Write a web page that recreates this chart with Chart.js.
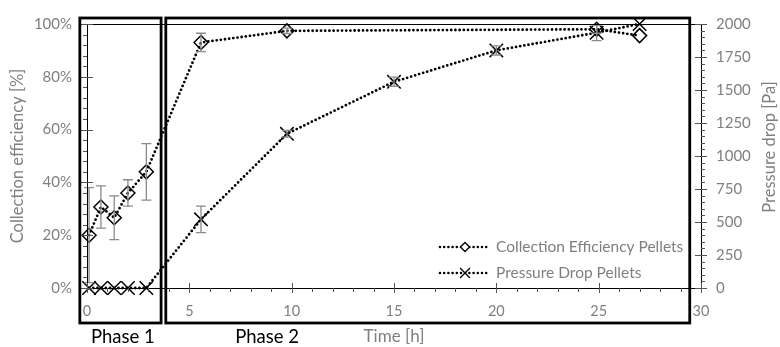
<!DOCTYPE html>
<html>
<head>
<meta charset="utf-8">
<script src="https://cdn.jsdelivr.net/npm/chart.js@4.4.1/dist/chart.umd.min.js"></script>
<style>
  html, body { margin: 0; padding: 0; background: #fff; }
  #wrap { width: 780px; height: 347px; position: relative; }
</style>
</head>
<body>
<div id="wrap"><canvas id="chart"></canvas></div>
<script>
// Czas pomiaru [h]
const timeEff = [0.1, 0.68, 1.33, 2.0, 2.9, 5.57, 9.77, 24.9, 27.0];
const efficiency = [20, 30.7, 26.6, 36, 44, 93, 97.4, 98, 95.6];
const efficiencyErr = [18, 8, 8.3, 5, 10.7, 3.5, 1, 1.5, 0];

const timePressure = [0.1, 0.68, 1.33, 2.0, 2.9, 5.57, 9.77, 15.0, 20.0, 24.9, 27.0];
const pressure = [0, 0, 0, 0, 0, 520, 1168, 1562, 1800, 1934, 2000];
const pressureErr = [0, 0, 0, 0, 0, 100, 25, 35, 35, 60, 0];

// Fazy eksperymentu
const phaseNames = ['Phase 1', 'Phase 2'];
const phaseFrom = [-0.35, 3.85];
const phaseTo = [3.62, 29.45];
const phaseLabelAt = [1.75, 8.8];

const GREY = '#7f7f7f';
const FONT = 'Lato, "Open Sans", sans-serif';

const toPoints = (xs, ys) => xs.map((x, i) => ({ x, y: ys[i] }));

// Słupki błędów rysowane na skalach wykresu
const errorBars = {
    id: 'errorBars',
    afterDatasetsDraw(chart) {
        const ctx = chart.ctx;
        const xs = chart.scales.x;
        ctx.save();
        ctx.strokeStyle = '#8a8a8a';
        ctx.lineWidth = 1.3;
        chart.data.datasets.forEach(ds => {
            const ys = chart.scales[ds.yAxisID];
            ds.data.forEach((p, j) => {
                const e = ds.errors[j];
                if (!e) return;
                const x = xs.getPixelForValue(p.x);
                const top = ys.getPixelForValue(p.y + e);
                const bot = ys.getPixelForValue(Math.max(p.y - e, ys.min));
                ctx.beginPath();
                ctx.moveTo(x, top); ctx.lineTo(x, bot);
                ctx.moveTo(x - 5, top); ctx.lineTo(x + 5, top);
                ctx.moveTo(x - 5, bot); ctx.lineTo(x + 5, bot);
                ctx.stroke();
            });
        });
        ctx.restore();
    }
};

// Osie z kreskami, ramki faz, legenda
const frame = {
    id: 'frame',
    afterDraw(chart) {
        const ctx = chart.ctx;
        const { left, right, top, bottom } = chart.chartArea;
        const xs = chart.scales.x, y1 = chart.scales.y, y2 = chart.scales.y2;
        ctx.save();

        // linie osi
        ctx.strokeStyle = '#000';
        ctx.lineWidth = 1;
        ctx.beginPath();
        ctx.moveTo(left + 0.5, top); ctx.lineTo(left + 0.5, bottom);
        ctx.moveTo(right + 0.5, top); ctx.lineTo(right + 0.5, bottom);
        ctx.moveTo(left, bottom + 0.5); ctx.lineTo(right, bottom + 0.5);
        ctx.moveTo(left, top + 0.5); ctx.lineTo(right, top + 0.5);
        ctx.stroke();

        ctx.strokeStyle = '#555';
        ctx.beginPath();
        for (let v = 0; v <= 100; v += 4) {
            const y = Math.round(y1.getPixelForValue(v)) + 0.5;
            if (v % 20 === 0) { ctx.moveTo(left - 6, y); ctx.lineTo(left + 6, y); }
            else { ctx.moveTo(left - 4, y); ctx.lineTo(left, y); }
        }
        for (let v = 0; v <= 2000; v += 50) {
            const y = Math.round(y2.getPixelForValue(v)) + 0.5;
            if (v % 250 === 0) { ctx.moveTo(right - 6, y); ctx.lineTo(right + 6, y); }
            else { ctx.moveTo(right, y); ctx.lineTo(right + 4, y); }
        }
        for (let v = 0; v <= 30; v += 1) {
            const x = Math.round(xs.getPixelForValue(v)) + 0.5;
            if (v % 5 === 0) { ctx.moveTo(x, bottom - 5); ctx.lineTo(x, bottom + 5); }
            else { ctx.moveTo(x, bottom); ctx.lineTo(x, bottom + 4); }
        }
        ctx.stroke();

        // tytuł prawej osi
        ctx.fillStyle = GREY;
        ctx.font = '16.5px ' + FONT;
        ctx.textAlign = 'center';
        ctx.textBaseline = 'middle';
        ctx.save();
        ctx.translate(770, 147);
        ctx.rotate(-Math.PI / 2);
        ctx.fillText('Pressure drop [Pa]', 0, 0);
        ctx.restore();

        // ramki faz
        ctx.strokeStyle = '#000';
        ctx.lineWidth = 2.8;
        ctx.fillStyle = '#000';
        ctx.font = '18.5px ' + FONT;
        phaseNames.forEach((name, i) => {
            const x0 = xs.getPixelForValue(phaseFrom[i]);
            const x1 = xs.getPixelForValue(phaseTo[i]);
            ctx.strokeRect(x0, top - 6, x1 - x0, bottom - top + 41);
            ctx.fillText(name, xs.getPixelForValue(phaseLabelAt[i]), bottom + 49);
        });

        // legenda
        ctx.font = '15.5px ' + FONT;
        ctx.textAlign = 'left';
        chart.data.datasets.forEach((ds, i) => {
            const y = bottom - 41 + i * 26;
            const x0 = right - 261, x1 = right - 211;
            ctx.save();
            ctx.strokeStyle = '#000';
            ctx.lineWidth = 2.6;
            ctx.lineCap = 'round';
            ctx.setLineDash([0, 4.2]);
            ctx.beginPath();
            ctx.moveTo(x0, y); ctx.lineTo(x1, y);
            ctx.stroke();
            ctx.restore();
            ctx.save();
            ctx.strokeStyle = '#000';
            ctx.fillStyle = '#fff';
            ctx.lineWidth = 1.3;
            Chart.helpers.drawPoint(ctx, {
                pointStyle: ds.pointStyle, radius: ds.pointStyle === 'rectRot' ? 4.5 : 7,
                rotation: 0, borderWidth: 1.3
            }, (x0 + x1) / 2, y);
            ctx.restore();
            ctx.fillStyle = GREY;
            ctx.fillText(ds.label, right - 205, y);
        });

        ctx.restore();
    }
};

const ctx = document.getElementById('chart').getContext('2d');
new Chart(ctx, {
    type: 'line',
    data: {
        datasets: [
            {
                label: 'Collection Efficiency Pellets',
                data: toPoints(timeEff, efficiency),
                errors: efficiencyErr,
                yAxisID: 'y',
                borderColor: '#000',
                borderWidth: 2.8,
                borderDash: [0, 4.2],
                borderCapStyle: 'round',
                pointStyle: 'rectRot',
                pointRadius: 7,
                pointBorderWidth: 1.5,
                pointBorderColor: '#000',
                pointBackgroundColor: 'rgba(0,0,0,0)',
                tension: 0,
                clip: false
            },
            {
                label: 'Pressure Drop Pellets',
                data: toPoints(timePressure, pressure),
                errors: pressureErr,
                yAxisID: 'y2',
                borderColor: '#000',
                borderWidth: 2.8,
                borderDash: [0, 4.2],
                borderCapStyle: 'round',
                pointStyle: 'crossRot',
                pointRadius: 9.5,
                pointBorderWidth: 1.5,
                pointBorderColor: '#000',
                pointBackgroundColor: 'rgba(0,0,0,0)',
                tension: 0,
                clip: false
            }
        ]
    },
    options: {
        responsive: true,
        maintainAspectRatio: false,
        animation: false,
        layout: { padding: { top: 14, left: 0, right: 0, bottom: 0 } },
        plugins: {
            legend: { display: false },
            tooltip: { enabled: false }
        },
        scales: {
            x: {
                type: 'linear',
                min: 0,
                max: 30,
                grid: { display: false, drawTicks: false },
                border: { display: false },
                ticks: { stepSize: 5, color: GREY, padding: 15, font: { family: FONT, size: 14.5 } },
                title: { display: true, text: 'Time [h]', color: GREY, padding: { top: 0, bottom: 0 }, font: { family: FONT, size: 17 } },
                afterFit: s => { s.height = 59; }
            },
            y: {
                position: 'left',
                min: 0,
                max: 100,
                grid: { display: false, drawTicks: false },
                border: { display: false },
                ticks: { stepSize: 20, color: GREY, padding: 15, font: { family: FONT, size: 15 }, callback: v => v + '%' },
                title: { display: true, text: 'Collection efficiency [%]', color: GREY, padding: { top: 8, bottom: 0 }, font: { family: FONT, size: 16.5 } },
                afterFit: s => { s.width = 87; }
            },
            y2: {
                position: 'right',
                min: 0,
                max: 2000,
                grid: { display: false, drawTicks: false },
                border: { display: false },
                ticks: { stepSize: 250, color: GREY, padding: 15, font: { family: FONT, size: 15 }, callback: v => String(v) },
                afterFit: s => { s.width = 79; }
            }
        }
    },
    plugins: [errorBars, frame]
});
</script>
</body>
</html>
